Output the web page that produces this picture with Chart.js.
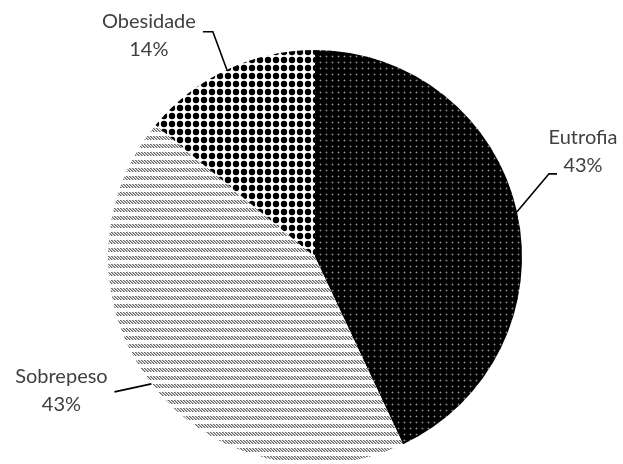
<!DOCTYPE html>
<html>
<head>
<meta charset="utf-8">
<script src="https://cdn.jsdelivr.net/npm/chart.js@4.4.1/dist/chart.umd.min.js"></script>
<style>
  html, body { margin: 0; padding: 0; background: #fff; }
  #wrap { width: 623px; height: 464px; }
</style>
</head>
<body>
<div id="wrap"><canvas id="pieChart" width="623" height="464"></canvas></div>
<script>
const categories = ['Eutrofia', 'Sobrepeso', 'Obesidade'];
const values = [43, 43, 14];
const percentLabels = ['43%', '43%', '14%'];

// small tiles used as fill patterns
function makePattern(w, h, draw) {
    const c = document.createElement('canvas');
    c.width = w;
    c.height = h;
    const g = c.getContext('2d');
    draw(g, w, h);
    return g.createPattern(c, 'repeat');
}

const ctx = document.getElementById('pieChart').getContext('2d');

const blackDots = makePattern(6, 6, function(g, w, h) {
    g.fillStyle = '#000';
    g.fillRect(0, 0, w, h);
    g.fillStyle = '#8a8a8a';
    g.fillRect(2, 2, 1, 1);
    g.fillStyle = '#3a3a3a';
    g.fillRect(1, 2, 1, 1);
    g.fillRect(3, 2, 1, 1);
    g.fillRect(2, 1, 1, 1);
    g.fillRect(2, 3, 1, 1);
});

const stripes = makePattern(9, 8, function(g, w, h) {
    g.fillStyle = '#fff';
    g.fillRect(0, 0, w, h);
    for (let y = 0; y < 4; y++) {
        for (let x = 0; x < w; x++) {
            const k = ((x - y) % 3 + 3) % 3;
            if (k === 0) { g.fillStyle = '#666'; g.fillRect(x, y, 1, 1); }
            else if (k === 1) { g.fillStyle = '#a8a8a8'; g.fillRect(x, y, 1, 1); }
        }
    }
});

const bigDots = makePattern(8, 8, function(g, w, h) {
    g.fillStyle = '#fff';
    g.fillRect(0, 0, w, h);
    g.fillStyle = '#000';
    g.beginPath();
    g.arc(4, 4, 3.2, 0, Math.PI * 2);
    g.fill();
});

// where each label sits relative to the edge point of its slice
const labelLayout = [
    { elbow: [32, -38], end: [40, -38], text: [66, -74] },
    { elbow: [-37, 8], end: [-37, 8], text: [-90, -7] },
    { elbow: [-14, -38], end: [-24, -38], text: [-78, -48] }
];

const leaderLabels = {
    id: 'leaderLabels',
    afterDatasetsDraw(chart) {
        const c = chart.ctx;
        const meta = chart.getDatasetMeta(0);
        c.save();
        meta.data.forEach(function(arc, i) {
            const p = arc.getProps(['x', 'y', 'startAngle', 'endAngle', 'outerRadius'], true);
            const mid = (p.startAngle + p.endAngle) / 2;
            const sx = p.x + Math.cos(mid) * p.outerRadius;
            const sy = p.y + Math.sin(mid) * p.outerRadius;
            const L = labelLayout[i];
            c.strokeStyle = '#000';
            c.lineWidth = 1.6;
            c.beginPath();
            c.moveTo(sx, sy);
            c.lineTo(sx + L.elbow[0], sy + L.elbow[1]);
            c.lineTo(sx + L.end[0], sy + L.end[1]);
            c.stroke();
            c.fillStyle = '#404040';
            c.font = '20px Lato, "Open Sans", sans-serif';
            c.textAlign = 'center';
            c.textBaseline = 'middle';
            const tx = sx + L.text[0];
            const ty = sy + L.text[1];
            c.fillText(categories[i], tx, ty);
            c.fillText(percentLabels[i], tx, ty + 28);
        });
        c.restore();
    }
};

new Chart(ctx, {
    type: 'pie',
    data: {
        labels: categories,
        datasets: [{
            data: values,
            backgroundColor: [blackDots, stripes, bigDots],
            borderWidth: 0
        }]
    },
    options: {
        responsive: false,
        animation: false,
        events: [],
        layout: {
            padding: { left: 108, right: 101, top: 50, bottom: 0 }
        },
        plugins: {
            legend: { display: false },
            tooltip: { enabled: false }
        }
    },
    plugins: [leaderLabels]
});
</script>
</body>
</html>
